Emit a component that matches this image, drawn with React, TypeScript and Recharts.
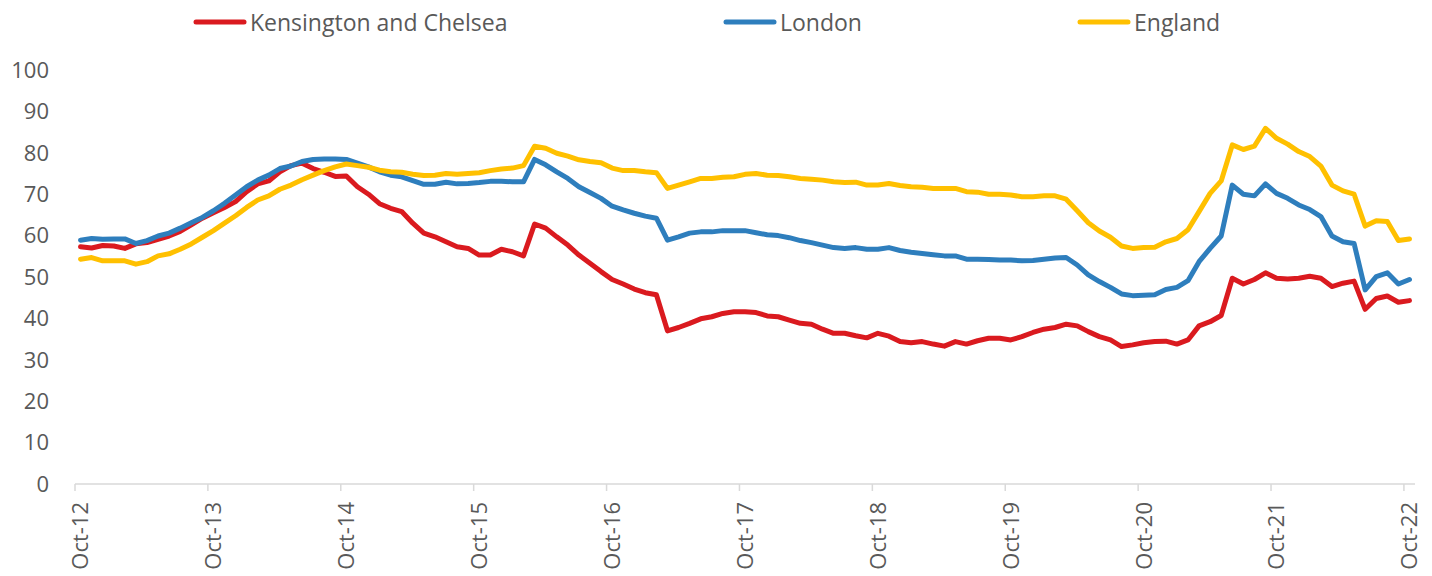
import React from "react";
import { LineChart, Line, XAxis, YAxis, Legend } from "recharts";

const tickIndex = [0, 12, 24, 36, 48, 60, 72, 84, 96, 108, 120];
const tickLabels = ["Oct-12", "Oct-13", "Oct-14", "Oct-15", "Oct-16", "Oct-17", "Oct-18", "Oct-19", "Oct-20", "Oct-21", "Oct-22"];
const yTicks = [0, 10, 20, 30, 40, 50, 60, 70, 80, 90, 100];

const seriesNames = ["Kensington and Chelsea", "London", "England"];
const seriesColors = ["#DA1A1F", "#2E7EBD", "#FFC000"];

const kensington = [
  57.3, 57.0, 57.6, 57.5, 56.9, 58.0, 58.3, 59.1, 59.9, 61.0, 62.6, 64.2,
  65.5, 66.8, 68.2, 70.6, 72.5, 73.2, 75.4, 76.9, 77.5, 76.2, 75.3, 74.3,
  74.4, 71.8, 70.0, 67.7, 66.6, 65.8, 63.0, 60.6, 59.7, 58.5, 57.3, 56.9,
  55.3, 55.3, 56.7, 56.1, 55.1, 62.8, 61.8, 59.7, 57.7, 55.3, 53.3, 51.3,
  49.4, 48.3, 47.1, 46.2, 45.7, 37.0, 37.8, 38.8, 39.9, 40.4, 41.2, 41.6,
  41.6, 41.4, 40.6, 40.4, 39.6, 38.8, 38.6, 37.4, 36.4, 36.4, 35.8, 35.3,
  36.4, 35.7, 34.4, 34.1, 34.4, 33.8, 33.3, 34.4, 33.8, 34.6, 35.2, 35.2,
  34.8, 35.6, 36.6, 37.4, 37.8, 38.6, 38.2, 36.8, 35.6, 34.8, 33.2, 33.6,
  34.1, 34.4, 34.5, 33.8, 34.8, 38.2, 39.2, 40.7, 49.7, 48.3, 49.4, 51.0,
  49.7, 49.5, 49.7, 50.2, 49.7, 47.7, 48.5, 49.0, 42.2, 44.8, 45.4, 43.9,
  44.3,
];

const london = [
  58.9, 59.3, 59.1, 59.2, 59.2, 58.1, 58.8, 59.9, 60.6, 61.8, 63.1, 64.4,
  66.0, 67.8, 69.8, 71.8, 73.4, 74.6, 76.2, 76.8, 77.9, 78.4, 78.5, 78.5,
  78.4, 77.5, 76.6, 75.4, 74.6, 74.2, 73.3, 72.4, 72.4, 72.9, 72.5, 72.6,
  72.8, 73.1, 73.1, 73.0, 73.0, 78.4, 77.1, 75.4, 73.8, 71.8, 70.4, 69.0,
  67.1, 66.2, 65.4, 64.7, 64.2, 58.9, 59.7, 60.6, 60.9, 60.9, 61.2, 61.2,
  61.2, 60.7, 60.2, 60.0, 59.5, 58.8, 58.3, 57.7, 57.1, 56.9, 57.1, 56.7,
  56.7, 57.1, 56.4, 56.0, 55.7, 55.4, 55.1, 55.1, 54.3, 54.3, 54.2, 54.1,
  54.1, 53.9, 54.0, 54.3, 54.6, 54.7, 52.9, 50.5, 48.9, 47.5, 45.9, 45.5,
  45.6, 45.7, 47.0, 47.5, 49.1, 53.7, 56.9, 59.9, 72.2, 70.0, 69.6, 72.5,
  70.2, 69.0, 67.4, 66.3, 64.6, 59.9, 58.5, 58.1, 46.9, 50.1, 51.0, 48.3,
  49.4,
];

const england = [
  54.3, 54.7, 53.9, 53.9, 53.9, 53.1, 53.7, 55.1, 55.6, 56.7, 58.0, 59.6,
  61.2, 63.0, 64.8, 66.8, 68.6, 69.6, 71.2, 72.2, 73.5, 74.6, 75.7, 76.6,
  77.3, 76.9, 76.5, 75.8, 75.4, 75.3, 74.8, 74.5, 74.6, 75.0, 74.8, 75.0,
  75.2, 75.7, 76.1, 76.3, 76.9, 81.6, 81.1, 79.9, 79.2, 78.3, 77.9, 77.6,
  76.3, 75.7, 75.7, 75.4, 75.2, 71.4, 72.2, 73.0, 73.8, 73.8, 74.1, 74.2,
  74.8, 75.0, 74.6, 74.5, 74.2, 73.8, 73.6, 73.4, 73.0, 72.8, 72.9, 72.2,
  72.2, 72.6, 72.1, 71.8, 71.7, 71.4, 71.4, 71.4, 70.6, 70.5, 70.0, 70.0,
  69.8, 69.4, 69.4, 69.6, 69.6, 68.8, 66.0, 63.1, 61.1, 59.6, 57.5, 56.9,
  57.1, 57.2, 58.5, 59.3, 61.4, 65.8, 70.2, 73.2, 81.9, 80.8, 81.6, 85.9,
  83.5, 82.1, 80.3, 79.1, 76.8, 72.2, 70.8, 70.0, 62.3, 63.6, 63.4, 58.8,
  59.2,
];

const data = kensington.map((v, i) => ({
  i,
  kc: v,
  london: london[i],
  england: england[i],
}));

const FONT = "'Open Sans', sans-serif";
const TEXT = "#595959";
const AXIS = "#D9D9D9";
const HALF_STEP = 5.54;
const legendLeft = [193, 723, 1077];

const XTick = (props: any) => {
  const { x, y, payload } = props;
  const idx = tickIndex.indexOf(payload.value);
  const label = idx >= 0 ? tickLabels[idx] : "";
  return (
    <g transform={`translate(${x},${y})`}>
      <line x1={-HALF_STEP} x2={-HALF_STEP} y1={0} y2={7} stroke={AXIS} strokeWidth={1.5} />
      <text
        transform="rotate(-90)"
        x={-18}
        y={0}
        dy="0.36em"
        textAnchor="end"
        fill={TEXT}
        fontSize={22}
        fontFamily={FONT}
      >
        {label}
      </text>
    </g>
  );
};

const LegendContent = () => (
  <div
    style={{
      height: 70,
      width: 1432,
      position: "relative",
      fontFamily: FONT,
      fontSize: 23,
      color: TEXT,
    }}
  >
    {seriesNames.map((n, k) => (
      <div
        key={n}
        style={{ position: "absolute", top: 6, left: legendLeft[k], display: "flex", alignItems: "center" }}
      >
        <svg width={54} height={10} style={{ display: "block" }}>
          <line x1={3} x2={51} y1={5} y2={5} stroke={seriesColors[k]} strokeWidth={5} strokeLinecap="round" />
        </svg>
        <span style={{ marginLeft: 3, lineHeight: "32px", whiteSpace: "nowrap" }}>{n}</span>
      </div>
    ))}
  </div>
);

export default function App() {
  return (
    <div style={{ position: "absolute", left: 0, top: 0, width: 1432, height: 576, background: "#fff" }}>
      <LineChart width={1432} height={576} data={data} margin={{ top: 0, right: 17, left: 0, bottom: 0 }}>
        <Legend verticalAlign="top" align="left" content={<LegendContent />} wrapperStyle={{ left: 0, top: 0, width: 1432 }} />
        <XAxis
          dataKey="i"
          type="number"
          domain={[-0.5, 120.5]}
          ticks={tickIndex}
          interval={0}
          height={92}
          stroke={AXIS}
          strokeWidth={1.5}
          tickLine={false}
          tickSize={0}
          tickMargin={0}
          tick={<XTick />}
          allowDataOverflow
        />
        <YAxis
          type="number"
          domain={[0, 100]}
          ticks={yTicks}
          interval={0}
          width={75}
          axisLine={false}
          tickLine={false}
          tickSize={0}
          tickMargin={26}
          tick={{ fill: TEXT, fontSize: 22, fontFamily: FONT }}
        />
        {[
          { key: "kc", k: 0 },
          { key: "london", k: 1 },
          { key: "england", k: 2 },
        ].map(({ key, k }) => (
          <Line
            key={key}
            type="linear"
            dataKey={key}
            name={seriesNames[k]}
            stroke={seriesColors[k]}
            strokeWidth={5}
            strokeLinejoin="round"
            strokeLinecap="round"
            dot={false}
            activeDot={false}
            isAnimationActive={false}
          />
        ))}
      </LineChart>
    </div>
  );
}
